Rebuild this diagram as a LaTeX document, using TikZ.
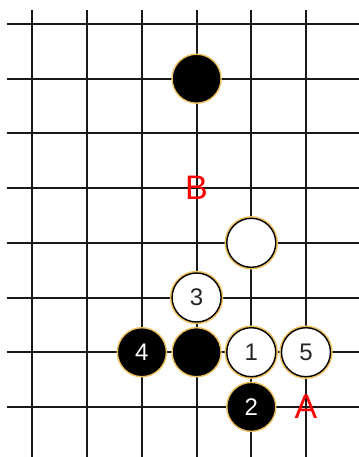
\documentclass[tikz,border=0pt]{standalone}
\usepackage{fontspec}
\setmainfont{Liberation Sans}
\definecolor{stonerim}{RGB}{238,192,96}
\definecolor{markred}{RGB}{255,0,0}
\begin{document}
\begin{tikzpicture}[
    x=54.7pt, y=-54.7pt,
    gridline/.style={draw=black!90, line width=2pt},
    stone/.style={circle, minimum size=49pt, inner sep=0pt,
        line width=1.4pt, font=\fontsize{24}{24}\selectfont},
    black stone/.style={stone, fill=black, draw=stonerim, text=white},
    white stone/.style={stone, fill=white, draw=black, text=black!85,
        preaction={draw=stonerim, line width=4.4pt}},
    board mark/.style={text=markred, inner sep=0pt,
        font=\fontsize{34}{34}\selectfont}
]
    \path[use as bounding box] (-0.594,-0.439) rectangle (5.969,7.916);

    % The board lines.
    \draw[gridline] (0,-0.256) -- (0,7.916);
    \draw[gridline] (1,-0.256) -- (1,7.916);
    \draw[gridline] (2,-0.256) -- (2,7.916);
    \draw[gridline] (3,-0.256) -- (3,7.916);
    \draw[gridline] (4,-0.256) -- (4,7.916);
    \draw[gridline] (5,-0.256) -- (5,7.916);
    \draw[gridline] (-0.475,0) -- (5.969,0);
    \draw[gridline] (-0.475,1) -- (5.969,1);
    \draw[gridline] (-0.475,2) -- (5.969,2);
    \draw[gridline] (-0.475,3) -- (5.969,3);
    \draw[gridline] (-0.475,4) -- (5.969,4);
    \draw[gridline] (-0.475,5) -- (5.969,5);
    \draw[gridline] (-0.475,6) -- (5.969,6);
    \draw[gridline] (-0.475,7) -- (5.969,7);

    % Stones already on the board.
    \node[black stone] (topblack) at (3,1) {};
    \node[white stone] (upwhite) at (4,4) {};
    \node[black stone] (midblack) at (3,6) {};

    % The numbered moves.
    \node[white stone] (move1) at (4,6) {1};
    \node[black stone] (move2) at (4,7) {2};
    \node[white stone] (move3) at (3,5) {3};
    \node[black stone] (move4) at (2,6) {4};
    \node[white stone] (move5) at (5,6) {5};

    % Lettered points.
    \node[board mark] (markA) at (5,7) {A};
    \node[board mark] (markB) at (3,3) {B};
\end{tikzpicture}
\end{document}
